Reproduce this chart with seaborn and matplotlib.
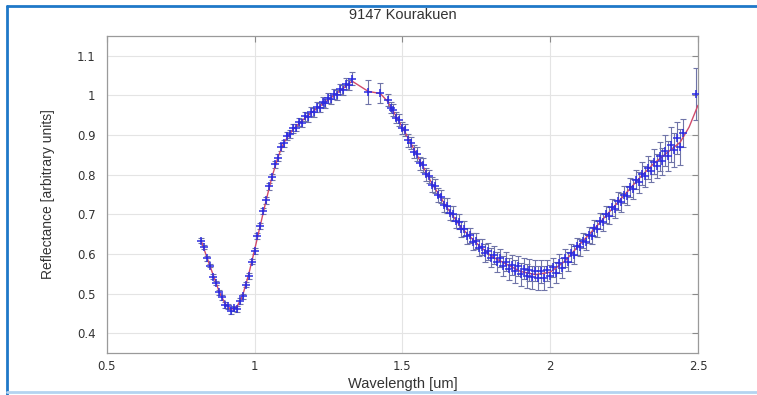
import matplotlib
matplotlib.use("Agg")
import matplotlib.pyplot as plt
from matplotlib.lines import Line2D
import seaborn as sns
import pandas as pd

# Spectrum of asteroid 9147 Kourakuen
wavelength = [
    0.82, 0.83, 0.84, 0.85, 0.86, 0.87, 0.88, 0.89, 0.90, 0.91, 0.92, 0.93, 0.94,
    0.95, 0.96, 0.97, 0.98, 0.99, 1.00, 1.01, 1.02, 1.03, 1.04, 1.05, 1.06, 1.07,
    1.08, 1.09, 1.10, 1.11, 1.12, 1.13, 1.14, 1.15, 1.16, 1.17, 1.18, 1.19, 1.20,
    1.21, 1.22, 1.23, 1.24, 1.25, 1.26, 1.27, 1.28, 1.29, 1.30, 1.31, 1.32, 1.33,
    1.385, 1.425,
    1.45, 1.46, 1.47, 1.48, 1.49, 1.50, 1.51, 1.52, 1.53, 1.54, 1.55, 1.56, 1.57,
    1.58, 1.59, 1.60, 1.61, 1.62, 1.63, 1.64, 1.65, 1.66, 1.67, 1.68, 1.69, 1.70,
    1.71, 1.72, 1.73, 1.74, 1.75, 1.76, 1.77, 1.78, 1.79, 1.80, 1.81, 1.82, 1.83,
    1.84, 1.85, 1.86, 1.87, 1.88, 1.89, 1.90, 1.91, 1.92, 1.93, 1.94, 1.95, 1.96,
    1.97, 1.98, 1.99, 2.00, 2.01, 2.02, 2.03, 2.04, 2.05, 2.06, 2.07, 2.08, 2.09,
    2.10, 2.11, 2.12, 2.13, 2.14, 2.15, 2.16, 2.17, 2.18, 2.19, 2.20, 2.21, 2.22,
    2.23, 2.24, 2.25, 2.26, 2.27, 2.28, 2.29, 2.30, 2.31, 2.32, 2.33, 2.34, 2.35,
    2.36, 2.37, 2.38, 2.39, 2.40, 2.41, 2.42, 2.43, 2.44, 2.45, 2.495,
]
reflectance = [
    0.634, 0.618, 0.589, 0.571, 0.543, 0.528, 0.503, 0.491, 0.472, 0.468, 0.456, 0.463, 0.462,
    0.481, 0.493, 0.523, 0.545, 0.581, 0.607, 0.645, 0.671, 0.709, 0.735, 0.771, 0.794, 0.826,
    0.843, 0.869, 0.879, 0.898, 0.902, 0.917, 0.919, 0.933, 0.931, 0.947, 0.945, 0.959, 0.957,
    0.971, 0.969, 0.983, 0.980, 0.993, 0.990, 1.003, 1.001, 1.016, 1.013, 1.029, 1.027, 1.042,
    1.008, 1.006,
    0.988, 0.969, 0.963, 0.944, 0.938, 0.918, 0.912, 0.887, 0.881, 0.858, 0.852, 0.829, 0.824,
    0.801, 0.796, 0.775, 0.771, 0.748, 0.745, 0.724, 0.722, 0.703, 0.701, 0.683, 0.681, 0.663,
    0.664, 0.646, 0.647, 0.631, 0.632, 0.616, 0.618, 0.603, 0.607, 0.590, 0.597, 0.580, 0.589,
    0.570, 0.580, 0.562, 0.573, 0.556, 0.570, 0.549, 0.563, 0.545, 0.559, 0.541, 0.558, 0.540,
    0.556, 0.540, 0.559, 0.545, 0.566, 0.553, 0.577, 0.565, 0.589, 0.580, 0.603, 0.598, 0.619,
    0.617, 0.634, 0.630, 0.648, 0.646, 0.665, 0.663, 0.683, 0.680, 0.700, 0.697, 0.718, 0.714,
    0.734, 0.730, 0.750, 0.747, 0.768, 0.764, 0.787, 0.781, 0.803, 0.796, 0.818, 0.810, 0.833,
    0.822, 0.846, 0.834, 0.861, 0.848, 0.876, 0.862, 0.892, 0.870, 0.905, 1.004,
]
error = [
    0.006, 0.005, 0.006, 0.005, 0.006, 0.005, 0.006, 0.006, 0.007, 0.006, 0.008, 0.007, 0.008,
    0.007, 0.006, 0.006, 0.007, 0.006, 0.007, 0.008, 0.007, 0.008, 0.008, 0.009, 0.008, 0.009,
    0.009, 0.010, 0.009, 0.010, 0.010, 0.011, 0.010, 0.011, 0.010, 0.011, 0.011, 0.012, 0.011,
    0.012, 0.011, 0.012, 0.012, 0.013, 0.012, 0.013, 0.012, 0.013, 0.013, 0.014, 0.013, 0.016,
    0.030, 0.026,
    0.015, 0.014, 0.015, 0.014, 0.015, 0.016, 0.015, 0.016, 0.015, 0.016, 0.017, 0.016, 0.017,
    0.016, 0.017, 0.018, 0.017, 0.018, 0.017, 0.018, 0.019, 0.018, 0.019, 0.018, 0.019, 0.020,
    0.019, 0.020, 0.019, 0.021, 0.020, 0.021, 0.020, 0.022, 0.021, 0.024, 0.022, 0.025, 0.023,
    0.026, 0.024, 0.027, 0.025, 0.028, 0.026, 0.029, 0.027, 0.030, 0.028, 0.030, 0.027, 0.031,
    0.028, 0.030, 0.027, 0.028, 0.025, 0.026, 0.024, 0.025, 0.023, 0.024, 0.022, 0.023, 0.021,
    0.022, 0.020, 0.021, 0.020, 0.021, 0.020, 0.021, 0.020, 0.022, 0.021, 0.022, 0.021, 0.023,
    0.022, 0.023, 0.022, 0.024, 0.023, 0.025, 0.024, 0.026, 0.028, 0.027, 0.030, 0.028, 0.032,
    0.030, 0.036, 0.034, 0.040, 0.038, 0.045, 0.042, 0.040, 0.046, 0.035, 0.065,
]

# smoothed curve drawn in red under the points
fit_wavelength = [
    0.82, 0.85, 0.88, 0.90, 0.92, 0.94, 0.96, 0.98, 1.00, 1.02, 1.04, 1.06, 1.08,
    1.10, 1.13, 1.16, 1.20, 1.25, 1.30, 1.33, 1.385, 1.425, 1.45, 1.50, 1.55, 1.60,
    1.65, 1.70, 1.75, 1.80, 1.85, 1.90, 1.95, 2.00, 2.05, 2.10, 2.15, 2.20, 2.25,
    2.30, 2.35, 2.40, 2.44, 2.47, 2.50,
]
fit_reflectance = [
    0.632, 0.568, 0.506, 0.475, 0.460, 0.466, 0.496, 0.548, 0.610, 0.674, 0.738, 0.797, 0.846,
    0.882, 0.914, 0.936, 0.961, 0.989, 1.018, 1.036, 1.010, 1.005, 0.985, 0.920, 0.849, 0.778,
    0.718, 0.666, 0.628, 0.595, 0.575, 0.556, 0.548, 0.554, 0.582, 0.624, 0.664, 0.706, 0.748,
    0.790, 0.828, 0.858, 0.882, 0.920, 0.975,
]

spec = pd.DataFrame({"wavelength": wavelength, "reflectance": reflectance, "error": error})
fit = pd.DataFrame({"wavelength": fit_wavelength, "reflectance": fit_reflectance})

sns.set_theme(style="whitegrid")
plt.rcParams["font.family"] = ["DejaVu Sans"]

fig = plt.figure(figsize=(7.57, 3.95), dpi=100)
ax = fig.add_axes([0.141, 0.106, 0.781, 0.803])

ax.errorbar(spec["wavelength"], spec["reflectance"], yerr=spec["error"],
            fmt="none", ecolor="#6f74a8", elinewidth=0.8, capsize=2, capthick=0.8, zorder=2)
sns.lineplot(data=fit, x="wavelength", y="reflectance", ax=ax, color="#d04a6a",
             linewidth=1.0, sort=False, zorder=3)
sns.scatterplot(data=spec, x="wavelength", y="reflectance", ax=ax, marker="+",
                color="#2c2ce0", s=34, linewidth=1.1, zorder=4)

ax.set_xlim(0.5, 2.5)
ax.set_ylim(0.35, 1.15)
ax.set_xticks([0.5, 1, 1.5, 2, 2.5])
ax.set_xticklabels(["0.5", "1", "1.5", "2", "2.5"])
ax.set_yticks([0.4, 0.5, 0.6, 0.7, 0.8, 0.9, 1.0, 1.1])
ax.set_yticklabels(["0.4", "0.5", "0.6", "0.7", "0.8", "0.9", "1", "1.1"])
ax.grid(True, color="#e4e4e4", linewidth=0.8)
for s in ax.spines.values():
    s.set_color("#9a9a9a")
    s.set_linewidth(0.9)
ax.tick_params(direction="in", length=4, width=0.8, color="#8a8a8a",
               top=True, right=True, labelsize=8.5, labelcolor="#333333")
ax.tick_params(axis="x", pad=5)
ax.tick_params(axis="y", pad=8)

label_font = ["Liberation Sans", "DejaVu Sans"]
ax.set_title("9147 Kourakuen", fontsize=10.5, family=label_font, color="#333333", pad=12)
ax.set_xlabel("Wavelength [um]", fontsize=10.5, family=label_font, color="#333333", labelpad=3)
ax.set_ylabel("Reflectance [arbitrary units]", fontsize=10, family=label_font,
              color="#333333", labelpad=16)

# blue frame around the picture
fig.add_artist(Line2D([0.009, 1.0], [0.985, 0.985], color="#1f78c8", linewidth=2))
fig.add_artist(Line2D([0.009, 0.009], [0.0, 0.985], color="#1f78c8", linewidth=2))
fig.add_artist(Line2D([0.009, 1.0], [0.008, 0.008], color="#b4d4f0", linewidth=2))

fig.savefig("out.png", dpi=100)
